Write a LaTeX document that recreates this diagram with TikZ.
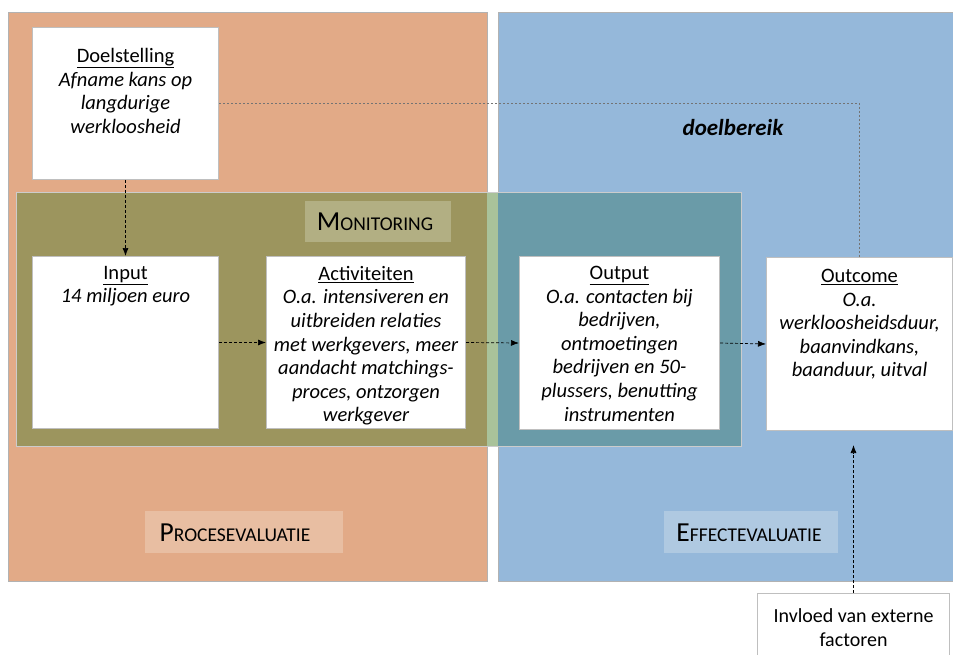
\documentclass[tikz,border=0pt]{standalone}
\usepackage{fontspec}
\setmainfont{Carlito}
\usetikzlibrary{positioning,arrows.meta}

\definecolor{procesc}{HTML}{E2AA87}
\definecolor{effectc}{HTML}{95B8DA}
\definecolor{monproc}{HTML}{9C955E}
\definecolor{mongap}{HTML}{A9C29A}
\definecolor{moneff}{HTML}{6A9BA8}
\definecolor{monlbl}{HTML}{B2AF83}
\definecolor{proclbl}{HTML}{E8BEA2}
\definecolor{efflbl}{HTML}{AFC9E1}
\newcommand\mysc[2]{{\fontsize{27.5}{27.5}\selectfont #1}{\fontsize{19.5}{19.5}\selectfont #2}}

\begin{document}
\begin{tikzpicture}
  [x=1pt,y=-1pt,>={Latex[length=8pt,width=6pt]},
   box/.style={draw=black!25,fill=white,line width=1pt,anchor=north west,inner sep=0pt},
   txt/.style={align=center,inner sep=0pt,font=\fontsize{20.5}{23.6}\selectfont},
   lbl/.style={anchor=north west,inner sep=0pt},
   flow/.style={->,dash pattern=on 3pt off 2pt,line width=0.7pt}]
  \useasboundingbox (0,0) rectangle (953,655);

  % panels
  \fill[procesc] (8,13) rectangle (487,581);
  \fill[effectc] (498,13) rectangle (960,581);
  \draw[black!30,line width=1pt] (8,13) rectangle (487,581);
  \draw[black!30,line width=1pt] (960,13) -| (498,581) -- (960,581);
  \fill[monproc] (16,192) rectangle (487,446);
  \fill[mongap] (487,192) rectangle (498,446);
  \fill[moneff] (498,192) rectangle (741,446);
  \draw[black!20,line width=0.8pt] (16,192) rectangle (741,446);

  % labels
  \node[lbl,fill=monlbl,minimum width=146pt,minimum height=41pt] (monlabel) at (305,201) {};
  \node (montxt) at (375,222) {\mysc{M}{ONITORING}};
  \node[lbl,fill=proclbl,minimum width=198pt,minimum height=42pt] (proclabel) at (145,511) {};
  \node (proctxt) at (235,533) {\mysc{P}{ROCESEVALUATIE}};
  \node[lbl,fill=efflbl,minimum width=174pt,minimum height=42pt] (efflabel) at (664,511) {};
  \node (efftxt) at (749,533) {\mysc{E}{FFECTEVALUATIE}};
  \node[txt,font=\fontsize{23}{23.6}\selectfont\bfseries\itshape] (doelbereik) at (733,128) {doelbereik};

  % boxes
  \node[box,minimum width=186pt,minimum height=152pt] (doel) at (32,27) {};
  \node[box,minimum width=186pt,minimum height=172pt] (input) at (32,256) {};
  \node[box,minimum width=199pt,minimum height=172pt] (activ) at (266,256) {};
  \node[box,minimum width=200pt,minimum height=173pt] (output) at (519,256) {};
  \node[box,minimum width=186pt,minimum height=173pt] (outcome) at (766,257) {};
  \node[box,minimum width=192pt,minimum height=75pt] (extern) at (757,593) {};

  \node[txt,below=21pt of doel.north] (doeltxt)
    {\underline{Doelstelling}\\ \itshape Afname kans op\\ \itshape langdurige\\ \itshape werkloosheid};
  \node[txt,below=10pt of input.north] (inputtxt)
    {\underline{Input}\\ \itshape 14 miljoen euro};
  \node[txt,below=10pt of activ.north] (activtxt)
    {\underline{Activiteiten}\\ \itshape O.a. intensiveren en\\ \itshape uitbreiden relaties\\
     \itshape met werkgevers, meer\\ \itshape aandacht matchings-\\ \itshape proces, ontzorgen\\ \itshape werkgever};
  \node[txt,below=10pt of output.north] (outputtxt)
    {\underline{Output}\\ \itshape O.a. contacten bij\\ \itshape bedrijven,\\ \itshape ontmoetingen\\
     \itshape bedrijven en 50-\\ \itshape plussers, benutting\\ \itshape instrumenten};
  \node[txt,below=12pt of outcome.north] (outcometxt)
    {\underline{Outcome}\\ \itshape O.a.\\ \itshape werkloosheidsduur,\\ \itshape baanvindkans,\\ \itshape baanduur, uitval};
  \node[txt,font=\fontsize{20}{24}\selectfont,below=15pt of extern.north] (externtxt)
    {Invloed van externe\\ factoren};

  % connectors
  \draw[flow] (doel.south) -- (input.north);
  \foreach \from/\to in {input/activ,activ/output,output/outcome}
    \draw[flow] (\from.east) -- (\to.west);
  \draw[flow,shorten >=14pt] (extern.north) -- (extern.north |- outcome.south);
  \draw[black!55,dash pattern=on 2pt off 2pt,line width=0.7pt] (doel.east) -| (outcome.north);
\end{tikzpicture}
\end{document}
